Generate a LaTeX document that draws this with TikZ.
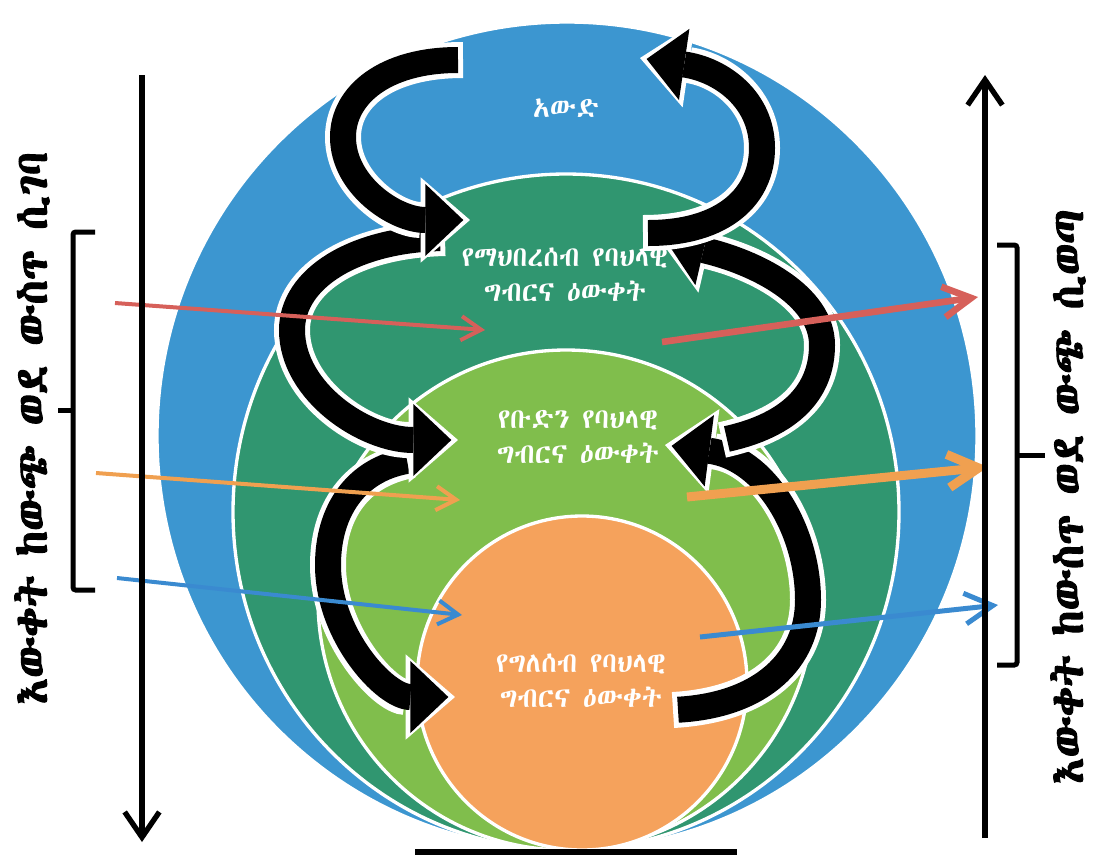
\documentclass[tikz,border=0pt]{standalone}
\usepackage{fontspec}
\usetikzlibrary{arrows.meta}
\IfFontExistsTF{Abyssinica SIL}{\newfontfamily\ethfont[AutoFakeBold=2.5]{Abyssinica SIL}}{%
  \IfFontExistsTF{Noto Sans Ethiopic}{\newfontfamily\ethfont[AutoFakeBold=2.5]{Noto Sans Ethiopic}}{%
    \IfFontExistsTF{FreeSerif}{\newfontfamily\ethfont[AutoFakeBold=2.5]{FreeSerif}}{%
      \newfontfamily\ethfont{DejaVu Sans}}}}

\definecolor{ctxblue}{RGB}{60,150,208}
\definecolor{comgreen}{RGB}{48,150,112}
\definecolor{grpgreen}{RGB}{128,190,76}
\definecolor{indorange}{RGB}{245,162,92}
\definecolor{inred}{RGB}{214,96,90}
\definecolor{inorange}{RGB}{240,160,80}
\definecolor{inblue}{RGB}{58,138,208}

\tikzset{every picture/.style={line width=0.75pt}}
\tikzset{
  ring/.style={draw=white, line width=2.5pt},
  spiral/.style={line width=19.5pt, black, shorten >=5pt, shorten <=3.75pt,
    -{Triangle[length=28.5pt,width=54pt,line width=0pt]},
    preaction={draw=white, line width=27pt, shorten >=0pt, shorten <=0pt,
      -{Triangle[length=37pt,width=64pt,line width=0pt]}}},
  flowin/.style={line width=3pt, -{Straight Barb[length=15pt,width=18pt]}},
  flowout/.style={-{Straight Barb[length=21pt,width=23pt]}},
  axis/.style={line width=4pt, -{Straight Barb[length=19pt,width=26pt]}},
  brace/.style={line width=3.75pt, rounded corners=2pt},
  ringtext/.style={text=white, inner sep=0.75pt, align=center, font=\ethfont\fontsize{21}{26}\selectfont},
  sidetext/.style={text=black, inner sep=0.75pt, rotate=90, font=\ethfont\bfseries\fontsize{33}{36}\selectfont},
}

\begin{document}
\begin{tikzpicture}[x=0.75pt,y=0.75pt,yscale=-1,xscale=1]
\useasboundingbox (0,0) rectangle (1096,858);

%Shape: Ellipse
\draw [ring, fill=ctxblue] (567,436) ellipse (410 and 414);
%Shape: Ellipse
\draw [ring, fill=comgreen] (566,512) ellipse (333 and 338);
%Shape: Ellipse
\draw [ring, fill=grpgreen] (566,600) ellipse (248 and 250);
%Shape: Ellipse
\draw [ring, fill=indorange] (582,683) ellipse (165 and 167);

% Text Node
\draw (566,108) node (ctx) [ringtext] {አውድ};
% Text Node
\draw (565,275) node (com) [ringtext] {የማህበረሰብ የባህላዊ\\ግብርና ዕውቀት};
% Text Node
\draw (578,437) node (grp) [ringtext] {የቡድን የባህላዊ\\ግብርና ዕውቀት};
% Text Node
\draw (581,681) node (ind) [ringtext] {የግለሰብ የባህላዊ\\ግብርና ዕውቀት};

%Curve Lines
\draw [spiral] (673,710) .. controls (762,705) and (808,660) .. (808,600) .. controls (808,530) and (765,458) .. (665,445) ;
%Curve Lines
\draw [spiral] (722,440) .. controls (790,425) and (822,392) .. (822,345) .. controls (822,295) and (755,262) .. (660,240) ;
%Curve Lines
\draw [spiral] (643,233) .. controls (725,233) and (762,195) .. (762,148) .. controls (762,100) and (722,70) .. (640,58) ;
%Curve Lines
\draw [spiral] (412,460) .. controls (355,470) and (328,512) .. (328,565) .. controls (328,635) and (385,697) .. (455,697) ;
%Curve Lines
\draw [spiral] (445,238) .. controls (355,240) and (292,278) .. (292,330) .. controls (292,392) and (365,440) .. (458,440) ;
%Curve Lines
\draw [spiral] (463,60) .. controls (385,60) and (343,95) .. (343,137) .. controls (343,185) and (395,220) .. (470,220) ;

%Straight Lines
\draw [flowin, inred] (115,303) -- (485,330) ;
%Straight Lines
\draw [flowin, inorange] (96,473) -- (460,500) ;
%Straight Lines
\draw [flowin, inblue] (117,578) -- (462,615) ;
%Straight Lines
\draw [flowout, inred, line width=5pt] (662,342) -- (978,297) ;
%Straight Lines
\draw [flowout, inorange, line width=6.75pt, -{Straight Barb[length=23pt,width=25pt]}] (687,497) -- (988,467) ;
%Straight Lines
\draw [flowout, inblue, line width=3.75pt] (700,637) -- (998,605) ;

%Straight Lines
\draw [axis] (142,75) -- (142,842) ;
%Straight Lines
\draw [axis] (985,838) -- (985,75) ;
%Shape: Brace
\draw [brace] (95,232) -- (73,232) -- (73,590) -- (95,590) ;
\draw [brace] (73,410) -- (58,410) ;
%Shape: Brace
\draw [brace] (997,245) -- (1017,245) -- (1017,665) -- (997,665) ;
\draw [brace] (1017,455) -- (1045,455) ;
%Straight Lines
\draw [line width=4.5pt] (415,852) -- (737,852) ;

% Text Node
\draw (32,428) node (inlab) [sidetext] {እውቀት ከውጭ ወደ ውስጥ ሲገባ};
% Text Node
\draw (1068,497) node (outlab) [sidetext] {እውቀት ከውስጥ ወደ ውጭ ሲወጣ};
\end{tikzpicture}
\end{document}
